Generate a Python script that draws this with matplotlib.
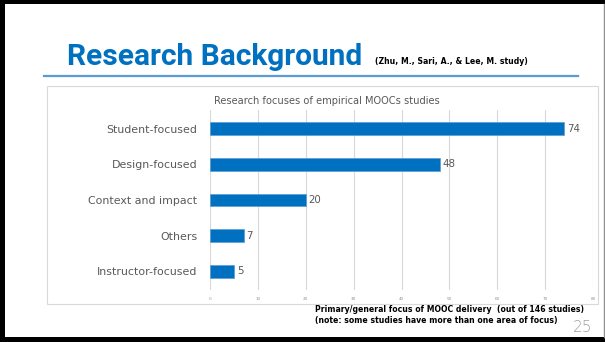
import numpy as np
import matplotlib
matplotlib.use("Agg")
import matplotlib.pyplot as plt
from matplotlib.patches import Rectangle
from matplotlib.lines import Line2D

categories = ["Student-focused", "Design-focused", "Context and impact", "Others", "Instructor-focused"]
counts = [74, 48, 20, 7, 5]
x_ticks = [0, 10, 20, 30, 40, 50, 60, 70, 80]

W, H = 605, 342
fig = plt.figure(figsize=(W / 100, H / 100), dpi=100)
fig.patch.set_facecolor("white")


def fx(px):
    return px / W


def fy(py):
    return 1 - py / H


# slide frame
fig.add_artist(Rectangle((0, fy(4)), 1, 4 / H, transform=fig.transFigure, color="black", lw=0))
fig.add_artist(Rectangle((0, 0), fx(5), 1, transform=fig.transFigure, color="black", lw=0))
fig.add_artist(Rectangle((0, 0), 1, 5 / H, transform=fig.transFigure, color="black", lw=0))
fig.add_artist(Line2D([fx(603.5), fx(603.5)], [fy(4), fy(337)], transform=fig.transFigure,
                      color="#909090", lw=1))

# heading
fig.text(fx(67), fy(65), "Research Background", color="#0070C0", fontsize=21.5,
         fontweight="bold", family="Roboto", va="baseline")
fig.text(fx(375), fy(64), "(Zhu, M., Sari, A., & Lee, M. study)", color="black", fontsize=5.6,
         fontweight="bold", family="DejaVu Sans", va="baseline")
fig.add_artist(Line2D([fx(44), fx(578)], [fy(76), fy(76)], transform=fig.transFigure,
                      color="#5B9BD5", lw=1.6))

# chart box
fig.add_artist(Rectangle((fx(47), fy(304)), fx(598) - fx(47), fy(86) - fy(304),
                         transform=fig.transFigure, facecolor="white", edgecolor="#D9D9D9",
                         lw=0.8, zorder=-1))
fig.text(fx(327), fy(101), "Research focuses of empirical MOOCs studies", color="#595959",
         fontsize=7.1, ha="center", va="center")

ax = fig.add_axes([fx(210), fy(290), fx(593) - fx(210), fy(110) - fy(290)])
ax.set_zorder(2)
ax.set_facecolor("none")
y = np.arange(len(categories))
ax.barh(y, counts, height=0.36, color="#0070C0", edgecolor="#5B9BD5", lw=0.5, zorder=3)
for yi, v in zip(y, counts):
    ax.text(v + 0.6, yi, str(v), color="#595959", fontsize=7.4, va="center")
ax.set_xlim(0, 80)
ax.set_ylim(len(categories) - 0.47, -0.53)
ax.set_xticks(x_ticks)
ax.set_yticks(y)
ax.set_yticklabels(categories, fontsize=7.9, color="#595959")
ax.tick_params(axis="x", labelsize=3, colors="#909090", length=0, pad=5)
ax.tick_params(axis="y", length=0, pad=9)
ax.grid(axis="x", color="#D9D9D9", lw=0.8, zorder=0)
for s in ax.spines.values():
    s.set_visible(False)

# footnote
fig.text(fx(315), fy(310), "Primary/general focus of MOOC delivery  (out of 146 studies)",
         fontsize=5.6, fontweight="bold", color="black", va="center")
fig.text(fx(315), fy(321), "(note: some studies have more than one area of focus)",
         fontsize=5.6, fontweight="bold", color="black", va="center")
fig.text(fx(583), fy(327), "25", fontsize=11, color="#A0A0A0", ha="center", va="center",
         fontweight="light")

fig.savefig("out.png", dpi=100)
